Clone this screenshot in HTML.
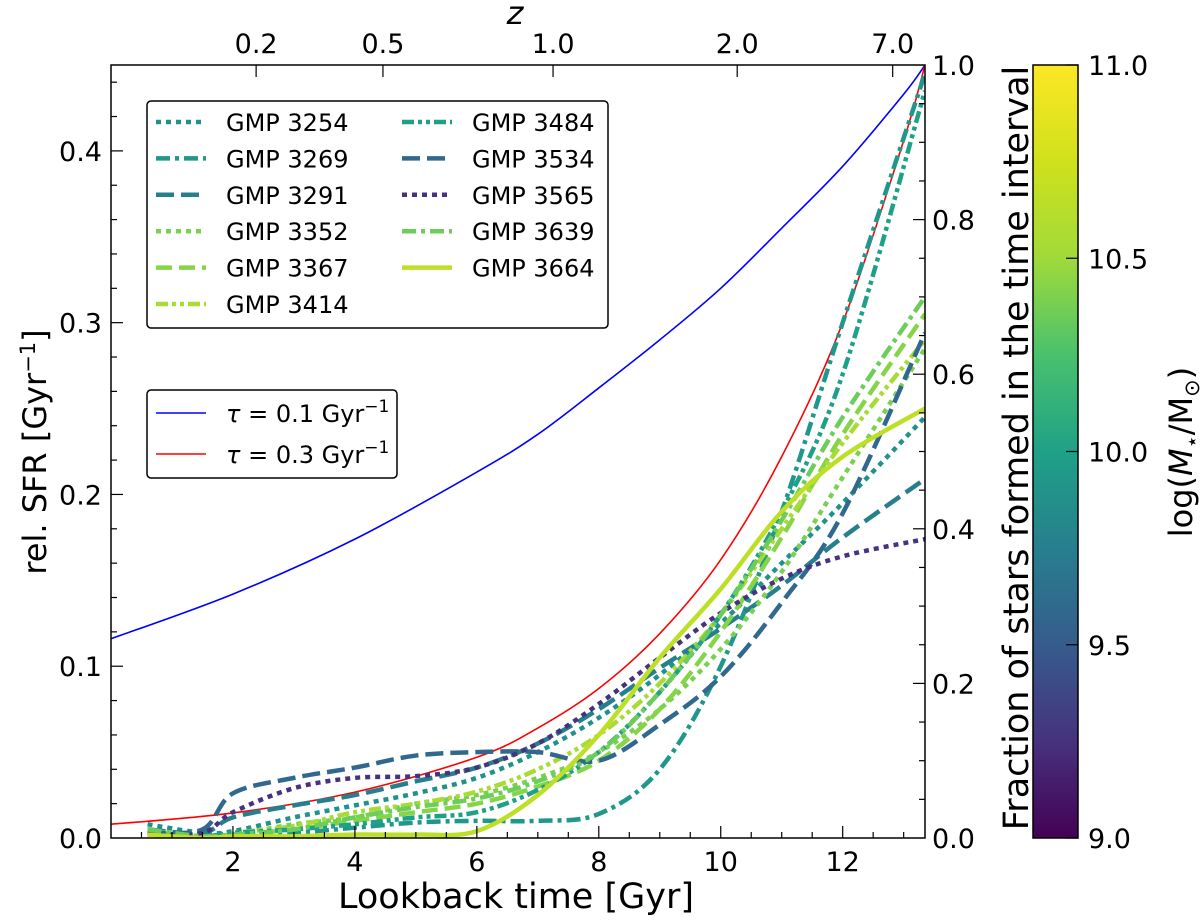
<!DOCTYPE html>
<html><head><meta charset="utf-8"><style>
body{margin:0;background:#fff;}
svg{font-family:"DejaVu Sans","Liberation Sans",sans-serif;}
</style></head><body>
<svg id="chart" width="1200" height="924" viewBox="0 0 1200 924" xmlns="http://www.w3.org/2000/svg" style="position:absolute;left:0;top:0">
<defs>
<linearGradient id="viridis" x1="0" y1="1" x2="0" y2="0">
<stop offset="0" stop-color="#440154"/><stop offset="0.125" stop-color="#46327e"/><stop offset="0.25" stop-color="#365c8d"/><stop offset="0.375" stop-color="#277f8e"/><stop offset="0.5" stop-color="#1fa187"/><stop offset="0.625" stop-color="#4ac16d"/><stop offset="0.75" stop-color="#a0da39"/><stop offset="0.875" stop-color="#d0e11c"/><stop offset="1" stop-color="#fde725"/>
</linearGradient>
<clipPath id="plotclip"><rect x="111" y="65" width="814" height="773"/></clipPath>
</defs>
<g id="plot" clip-path="url(#plotclip)"></g>
<g id="axes"></g>
</svg>
<script>
// ----- data -----
const modelTimes = [0, 2, 4, 6, 7, 8, 9, 10, 11, 12, 13, 13.35];
const tau01 = [0.116, 0.142, 0.174, 0.213, 0.235, 0.262, 0.290, 0.320, 0.355, 0.391, 0.433, 0.45];
const tau03 = [0.008, 0.0146, 0.0267, 0.047, 0.064, 0.087, 0.119, 0.162, 0.222, 0.300, 0.406, 0.45];
const galTimes = [0.6, 1.5, 2, 3, 4, 5, 6, 7, 8, 9, 10, 11, 12, 13.35];
const g3254 = [0.008, 0.003, 0.004, 0.012, 0.019, 0.026, 0.035, 0.05, 0.07, 0.095, 0.125, 0.16, 0.195, 0.245];
const g3269 = [0.003, 0.0, 0.002, 0.003, 0.006, 0.009, 0.01, 0.01, 0.014, 0.04, 0.10, 0.19, 0.30, 0.445];
const g3291 = [0.005, 0.003, 0.012, 0.019, 0.025, 0.033, 0.041, 0.055, 0.075, 0.099, 0.122, 0.147, 0.175, 0.209];
const g3352 = [0.004, 0.001, 0.002, 0.008, 0.012, 0.02, 0.025, 0.035, 0.05, 0.075, 0.11, 0.155, 0.21, 0.285];
const g3367 = [0.004, 0.001, 0.002, 0.005, 0.01, 0.015, 0.02, 0.03, 0.045, 0.075, 0.12, 0.175, 0.235, 0.305];
const g3414 = [0.004, 0.001, 0.003, 0.007, 0.015, 0.02, 0.027, 0.04, 0.06, 0.09, 0.13, 0.18, 0.23, 0.29];
const g3484 = [0.003, 0.001, 0.003, 0.005, 0.008, 0.012, 0.015, 0.028, 0.05, 0.085, 0.13, 0.19, 0.27, 0.435];
const g3534 = [0.003, 0.005, 0.026, 0.035, 0.041, 0.048, 0.05, 0.05, 0.045, 0.066, 0.094, 0.137, 0.189, 0.294];
const g3565 = [0.002, 0.003, 0.015, 0.029, 0.035, 0.036, 0.041, 0.055, 0.078, 0.105, 0.131, 0.151, 0.164, 0.174];
const g3639 = [0.005, 0.001, 0.002, 0.005, 0.012, 0.018, 0.023, 0.033, 0.05, 0.085, 0.13, 0.185, 0.245, 0.315];
const g3664 = [0.002, 0.0, 0.001, 0.001, 0.002, 0.002, 0.004, 0.025, 0.06, 0.105, 0.145, 0.19, 0.222, 0.25];
const xTicks = [2, 4, 6, 8, 10, 12];
const yTicks = [0.0, 0.1, 0.2, 0.3, 0.4];
const fracTicks = [0.0, 0.2, 0.4, 0.6, 0.8, 1.0];
const zTickLabels = ["0.2", "0.5", "1.0", "2.0", "7.0"];
const zTickTimes = [2.38, 4.46, 7.25, 10.27, 12.82];
const cbTicks = [9.0, 9.5, 10.0, 10.5, 11.0];

// ----- axes -----
const X0 = 111, X1 = 925, Y0 = 838, Y1 = 65;
const xMax = 13.35, yMax = 0.45;
const xs = t => X0 + t / xMax * (X1 - X0);
const ys = v => Y0 - v / yMax * (Y0 - Y1);
const yf = f => Y0 - f * (Y0 - Y1);
const NS = "http://www.w3.org/2000/svg";
function mk(tag, attrs, parent) {
  const e = document.createElementNS(NS, tag);
  for (const k in attrs) e.setAttribute(k, attrs[k]);
  parent.appendChild(e);
  return e;
}
const plot = document.getElementById('plot');
const axes = document.getElementById('axes');

function smoothPath(tt, vv) {
  const p = tt.map((t, i) => [xs(t), ys(vv[i])]);
  let d = `M${p[0][0]},${p[0][1]}`;
  for (let i = 0; i < p.length - 1; i++) {
    const p0 = p[i - 1] || p[i], p1 = p[i], p2 = p[i + 1], p3 = p[i + 2] || p2;
    const c1 = [p1[0] + (p2[0] - p0[0]) / 6, p1[1] + (p2[1] - p0[1]) / 6];
    const c2 = [p2[0] - (p3[0] - p1[0]) / 6, p2[1] - (p3[1] - p1[1]) / 6];
    d += ` C${c1[0]},${c1[1]} ${c2[0]},${c2[1]} ${p2[0]},${p2[1]}`;
  }
  return d;
}
const DOT = "5,5", LDASH = "18,7", DASHD = "16,7", DASHDOT = "14,5,4,5", DDD = "12,4,4,4,4,4";
const galaxies = [
  ["3254", g3254, "#21918c", DOT],
  ["3269", g3269, "#1f988b", DASHDOT],
  ["3291", g3291, "#277f8e", LDASH],
  ["3352", g3352, "#7ad151", DOT],
  ["3367", g3367, "#86d549", DASHD],
  ["3414", g3414, "#a8db34", DDD],
  ["3484", g3484, "#1fa088", DDD],
  ["3534", g3534, "#31688e", LDASH],
  ["3565", g3565, "#46327e", DOT],
  ["3639", g3639, "#6ccd5a", DASHDOT],
  ["3664", g3664, "#bddf26", null]
];
let el;
el = mk('path', {d: smoothPath(modelTimes, tau01), fill: 'none', stroke: '#0000ff', 'stroke-width': 1.6}, plot);


el = mk('path', {d: smoothPath(modelTimes, tau03), fill: 'none', stroke: '#ff0000', 'stroke-width': 1.6}, plot);


galaxies.forEach(g => {
  const a = {d: smoothPath(galTimes, g[1]), fill: 'none', stroke: g[2], 'stroke-width': 4.5};
  if (g[3]) a['stroke-dasharray'] = g[3];
  const p = mk('path', a, plot);
  
  
});

// frame
el = mk('rect', {x: X0, y: Y1, width: X1 - X0, height: Y0 - Y1, fill: 'none', stroke: '#000', 'stroke-width': 1.5}, axes);


const tickStyle = {stroke: '#000', 'stroke-width': 1.2};
for (let t = 0.5; t < xMax; t += 0.5) {
  const maj = Math.abs(t / 2 - Math.round(t / 2)) < 1e-6;
  const L = maj ? 12 : 6;
  mk('line', Object.assign({x1: xs(t), x2: xs(t), y1: Y0, y2: Y0 - L}, tickStyle), axes);
}
xTicks.forEach(t => {
  el = mk('text', {x: xs(t), y: 871, 'font-size': 27, 'text-anchor': 'middle'}, axes);
  el.textContent = t;
  
  
});
for (let v = 0.02; v < yMax; v += 0.02) {
  const maj = Math.abs(v * 10 - Math.round(v * 10)) < 1e-6;
  mk('line', Object.assign({x1: X0, x2: X0 + (maj ? 12 : 6), y1: ys(v), y2: ys(v)}, tickStyle), axes);
}
yTicks.forEach(v => {
  el = mk('text', {x: 102, y: ys(v) + 10, 'font-size': 27, 'text-anchor': 'end'}, axes);
  el.textContent = v.toFixed(1);
  
  
});
for (let f = 0.05; f < 1; f += 0.05) {
  const maj = Math.abs(f * 5 - Math.round(f * 5)) < 1e-6;
  mk('line', Object.assign({x1: X1, x2: X1 - (maj ? 12 : 6), y1: yf(f), y2: yf(f)}, tickStyle), axes);
}
fracTicks.forEach(f => {
  el = mk('text', {x: 932, y: yf(f) + 10, 'font-size': 27}, axes);
  el.textContent = f.toFixed(1);
  
  
});
zTickTimes.forEach((t, i) => {
  mk('line', Object.assign({x1: xs(t), x2: xs(t), y1: Y1, y2: Y1 + 12}, tickStyle), axes);
  el = mk('text', {x: xs(t), y: 53, 'font-size': 27, 'text-anchor': 'middle'}, axes);
  el.textContent = zTickLabels[i];
  
  
});
// colorbar
el = mk('rect', {x: 1033, y: 65, width: 45, height: 773, fill: 'url(#viridis)', stroke: '#000', 'stroke-width': 1.5}, axes);


cbTicks.forEach(m => {
  const y = 838 - (m - 9) / 2 * 773;
  mk('line', Object.assign({x1: 1078, x2: 1066, y1: y, y2: y}, tickStyle), axes);
  el = mk('text', {x: 1088, y: y + 10, 'font-size': 27}, axes);
  el.textContent = m.toFixed(1);
  
  
});

// legend 1
const lg = mk('g', {}, axes);


mk('rect', {x: 147, y: 101, width: 461, height: 227, rx: 4, fill: '#fff', stroke: '#000', 'stroke-width': 1.5}, lg);
galaxies.forEach((g, i) => {
  const col = i < 6 ? 0 : 1, row = i < 6 ? i : i - 6;
  const x = col ? 402 : 156, y = 122 + row * 36.4;
  const a = {x1: x, x2: x + 50, y1: y, y2: y, stroke: g[2], 'stroke-width': 4.5};
  if (g[3]) a['stroke-dasharray'] = g[3];
  mk('line', a, lg);
  const t = mk('text', {x: x + 70, y: y + 9, 'font-size': 24}, lg);
  t.textContent = 'GMP ' + g[0];
  
  
});
// legend 2
const lg2 = mk('g', {}, axes);


mk('rect', {x: 147, y: 390, width: 250, height: 88, rx: 4, fill: '#fff', stroke: '#000', 'stroke-width': 1.5}, lg2);
[["#0000ff", "0.1", 413], ["#ff0000", "0.3", 454]].forEach(r => {
  mk('line', {x1: 156, x2: 206, y1: r[2], y2: r[2], stroke: r[0], 'stroke-width': 1.6}, lg2);
  const t = mk('text', {x: 226, y: r[2] + 9, 'font-size': 24}, lg2);
  t.innerHTML = '<tspan font-style="italic">τ</tspan> = ' + r[1] + ' Gyr<tspan dy="-10" font-size="17">−1</tspan>';
  
  
});
</script>
<svg style="position:absolute;left:0;top:0" width="1200" height="924">
<text x="516" y="908" font-size="35" text-anchor="middle" font-family="DejaVu Sans, Liberation Sans, sans-serif">Lookback time [Gyr]</text>
<text x="515" y="24" font-size="32" font-style="italic" text-anchor="middle" font-family="DejaVu Sans, Liberation Sans, sans-serif">z</text>
<text transform="translate(46,452) rotate(-90)" font-size="32" text-anchor="middle" font-family="DejaVu Sans, Liberation Sans, sans-serif">rel. SFR [Gyr<tspan dy="-11" font-size="21">−1</tspan><tspan dy="11">]</tspan></text>
<text transform="translate(1028,448) rotate(-90)" font-size="35" text-anchor="middle" font-family="DejaVu Sans, Liberation Sans, sans-serif">Fraction of stars formed in the time interval</text>
<text transform="translate(1192,452) rotate(-90)" font-size="32" text-anchor="middle" font-family="DejaVu Sans, Liberation Sans, sans-serif">log(<tspan font-style="italic">M</tspan><tspan dy="7" font-size="21">⋆</tspan><tspan dy="-7">/M</tspan><tspan dy="7" font-size="21">⊙</tspan><tspan dy="-7">)</tspan></text>
</svg>
</body></html>
